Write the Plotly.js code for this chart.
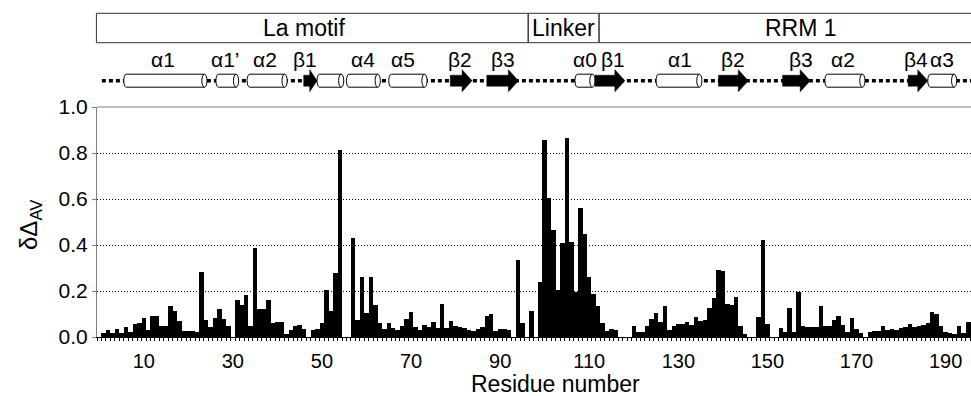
<!DOCTYPE html>
<html><head><meta charset="utf-8">
<script src="https://cdn.plot.ly/plotly-3.0.1.min.js"></script>
<style>html,body{margin:0;padding:0;background:#fff}</style>
</head><body><div id="chart" style="width:971px;height:396px"></div>
<script>
// ---- data ----
const residueStart = 1;
const deltaAV = [
 0.017,0.032,0.016,0.036,0.016,0.043,0.022,0.055,0.06,0.084,
 0.032,0.093,0.09,0.046,0.049,0.135,0.115,0.069,0.028,0.025,
 0.024,0.022,0.284,0.072,0.043,0.084,0.122,0.08,0.046,null,
 0.16,0.14,0.181,0.046,0.388,0.122,0.122,0.162,0.062,0.067,
 0.067,0.015,0.03,0.048,0.054,0.035,null,0.031,0.036,0.059,
 0.203,0.112,0.278,0.814,null,null,0.432,0.072,0.26,0.106,
 0.26,0.139,0.06,0.035,0.06,0.038,0.029,0.046,0.08,0.11,
 0.043,0.029,0.054,0.043,0.067,0.038,0.142,0.038,0.07,0.049,
 0.043,0.04,0.032,0.025,0.034,0.043,0.093,0.099,0.025,0.036,
 0.036,0.03,null,0.333,0.061,null,0.113,null,0.24,0.855,
 0.603,0.464,0.206,0.409,0.864,0.414,0.197,0.559,0.449,0.261,
 0.186,0.133,0.061,0.026,0.035,0.03,null,null,null,0.049,
 0.023,0.023,0.049,0.078,0.104,0.064,0.133,0.032,0.049,0.058,
 0.058,0.064,0.052,0.087,0.07,0.072,0.128,0.171,0.293,0.287,
 0.142,0.139,0.174,0.046,0.012,null,null,0.087,0.423,0.058,
 null,null,0.041,0.02,0.128,0.02,0.194,0.046,0.043,0.043,
 0.043,0.133,0.049,0.049,0.072,0.093,0.052,0.023,0.081,0.035,
 0.017,null,0.02,0.026,0.026,0.049,0.032,0.035,0.029,0.041,
 0.043,0.055,0.043,0.049,0.052,0.061,0.11,0.101,0.046,0.02,
 0.017,0.015,0.046,0.017,0.064,0.067
];
const xTickVals = [10,30,50,70,90,110,130,150,170,190];
const yTickVals = [0,0.2,0.4,0.6,0.8,1.0];
const yTickText = ['0.0','0.2','0.4','0.6','0.8','1.0'];

const domainNames = ['La motif','Linker','RRM 1'];
const domainStart = [-0.63, 96.3, 112.2];
const domainEnd   = [96.3, 112.2, 210];
const domainLabelAt = [46.0, 104.2, 157.6];

const ssType  = ['h','h','h','e','h','h','h','e','e','h','e','h','e','e','h','e','h'];
const ssStart = [5.5,26.2,33.2,45.9,48.9,55.5,65.0,78.8,87.0,106.8,111.3,125.0,139.0,153.4,162.9,181.6,186.0];
const ssEnd   = [24.2,31.3,42.2,48.9,54.9,63.1,73.6,83.7,94.1,111.3,118.0,135.3,145.7,159.6,171.9,186.0,192.5];
const ssLabelText = ['α1','α1’','α2','β1','α4','α5','β2','β3','α0','β1','α1','β2','β3','α2','β4','α3'];
const ssLabelAt   = [14.4,28.3,37.3,46.3,59.3,68.2,81.0,90.7,109.1,115.4,130.4,142.3,157.6,167.0,183.3,189.2];

// ---- geometry helpers (layout only) ----
const X0 = -0.5, X1 = 195.7;
const W = 874, TOP = 107, BOT = 337, H = BOT - TOP;
const xp = r => (r - X0) / (X1 - X0);
const yp = px => (BOT - px) / H;
const dxp = px => px / W;
const dyp = px => px / H;

const FONT = 'Liberation Sans, Arial, sans-serif';
const shapes = [];
const annotations = [];

// top border of plot area
shapes.push({type:'line', xref:'paper', yref:'paper', x0:0, x1:1, y0:1, y1:1, line:{color:'#808080', width:1}});

// domain boxes
const boxT = yp(13.3), boxB = yp(42.7);
domainNames.forEach((n, i) => {
  shapes.push({type:'rect', xref:'paper', yref:'paper', x0:xp(domainStart[i]), x1:xp(domainEnd[i]), y0:boxB, y1:boxT,
    line:{color:'#333', width:1}, fillcolor:'rgba(0,0,0,0)'});
  annotations.push({xref:'paper', yref:'paper', x:xp(domainLabelAt[i]), y:(boxT+boxB)/2, text:n, showarrow:false,
    xanchor:'center', yanchor:'middle', font:{family:FONT, size:23, color:'#000'}});
});

// secondary structure line
const yc = yp(80.7);
shapes.push({type:'line', xref:'paper', yref:'paper', x0:xp(0.6), x1:1, y0:yc, y1:yc,
  line:{color:'#000', width:3.5, dash:'4px,3px'}});

ssType.forEach((t, i) => {
  const a = xp(ssStart[i]), b = xp(ssEnd[i]);
  if (t === 'h') {
    const k = dxp(2.6), yT = yc + dyp(6.5), yB = yc - dyp(6.5);
    const bx = b - k;
    shapes.push({type:'path', xref:'paper', yref:'paper',
      path:`M ${a+k},${yT} L ${bx},${yT} L ${bx},${yB} L ${a+k},${yB} C ${a-k/3},${yB} ${a-k/3},${yT} ${a+k},${yT} Z`,
      fillcolor:'#fff', line:{color:'#000', width:1}});
    shapes.push({type:'circle', xref:'paper', yref:'paper', x0:bx-k, x1:bx+k, y0:yB, y1:yT,
      fillcolor:'#fff', line:{color:'#000', width:1}});
  } else {
    const len = b - a;
    const hl = Math.min(dxp(10), len*0.55);
    const hb = dyp(5.5), hh = dyp(11);
    const xh = b - hl;
    shapes.push({type:'path', xref:'paper', yref:'paper',
      path:`M ${a},${yc+hb} L ${xh},${yc+hb} L ${xh},${yc+hh} L ${b},${yc} L ${xh},${yc-hh} L ${xh},${yc-hb} L ${a},${yc-hb} Z`,
      fillcolor:'#000', line:{color:'#000', width:0.5}});
  }
});
ssLabelText.forEach((t, i) => {
  annotations.push({xref:'paper', yref:'paper', x:xp(ssLabelAt[i]), y:yp(59), text:t, showarrow:false,
    xanchor:'center', yanchor:'middle', font:{family:FONT, size:21, color:'#000'}});
});

// axis titles
annotations.push({xref:'paper', yref:'paper', x:(30-97)/W, y:yp(225), text:'δΔ<sub>AV</sub>', textangle:-90,
  showarrow:false, xanchor:'center', yanchor:'middle', font:{family:FONT, size:24, color:'#000'}});
annotations.push({xref:'paper', yref:'paper', x:(555-97)/W, y:yp(384), text:'Residue number',
  showarrow:false, xanchor:'center', yanchor:'middle', font:{family:FONT, size:23, color:'#000'}});

const trace = {type:'bar', x0:residueStart, dx:1, y:deltaAV,
  marker:{color:'#000', line:{width:0}}, hoverinfo:'skip'};

const layout = {
  width:971, height:396,
  margin:{l:97, r:0, t:TOP, b:396-BOT, pad:0},
  paper_bgcolor:'#fff', plot_bgcolor:'#fff',
  bargap:0, showlegend:false,
  font:{family:FONT, color:'#000'},
  xaxis:{range:[X0, X1], tickmode:'array', tickvals:xTickVals, ticks:'', showgrid:false, zeroline:false,
    showline:true, linecolor:'#000', linewidth:1, tickfont:{size:20, family:FONT, color:'#000'},
    ticklabelstandoff:6,
    minor:{tickmode:'linear', tick0:0.5, dtick:1, ticks:'outside', ticklen:3, tickcolor:'#000', tickwidth:1, showgrid:false}},
  yaxis:{range:[0,1], tickmode:'array', tickvals:yTickVals, ticktext:yTickText, showgrid:true, gridcolor:'#000',
    griddash:'1px,2px', gridwidth:1, zeroline:false, showline:true, linecolor:'#808080', linewidth:1,
    ticks:'outside', ticklen:4, tickcolor:'#808080', tickfont:{size:21, family:FONT, color:'#000'}},
  shapes:shapes, annotations:annotations
};
Plotly.newPlot('chart', [trace], layout, {staticPlot:true, displayModeBar:false});
</script></body></html>
